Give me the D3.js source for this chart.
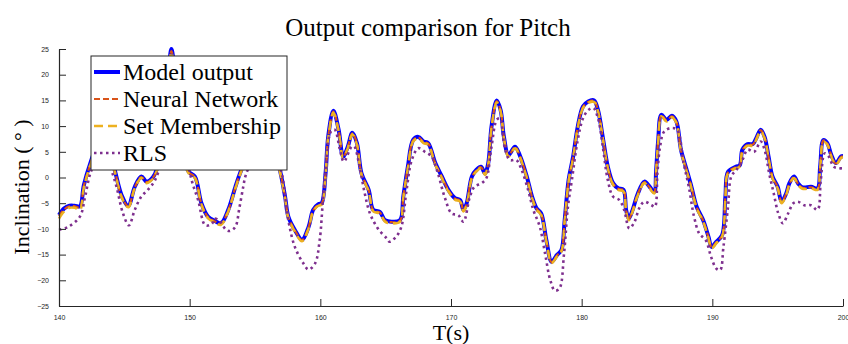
<!DOCTYPE html>
<html>
<head>
<meta charset="utf-8">
<script src="https://cdn.jsdelivr.net/npm/d3@7"></script>
<style>
  html, body { margin: 0; padding: 0; background: #fff; }
  svg { display: block; }
</style>
</head>
<body>
<script>
// time stamps (s) of the traced model / NN / SM samples
const modelT = [140.0,140.4,140.8,141.2,141.6,141.9,142.4,142.9,143.4,143.9,144.3,144.8,145.3,145.8,146.3,146.7,147.2,147.5,148.0,148.4,148.6,148.8,149.2,149.9,
  150.4,150.9,151.4,151.9,152.4,152.95,153.5,153.85,154.4,155.2,156.0,156.6,156.9,157.3,157.55,158.05,158.6,159.1,159.45,159.85,
  160.1,160.4,160.6,161.0,161.4,161.75,162.1,162.45,162.8,163.15,163.7,164.05,164.55,164.95,165.45,166.1,166.35,166.7,167.1,167.5,167.9,168.25,168.8,169.3,169.8,
  170.3,170.7,170.95,171.2,171.6,171.95,172.3,172.6,172.85,173.1,173.5,173.8,174.05,174.4,174.9,175.3,175.8,176.2,176.55,176.9,177.3,177.7,178.1,178.45,178.7,179.0,179.35,179.7,
  180.1,180.5,180.95,181.25,181.65,182.0,182.4,182.8,183.2,183.4,183.6,183.9,184.3,184.8,185.2,185.55,185.7,185.85,186.1,186.5,186.9,187.25,187.6,188.0,188.4,188.8,189.3,189.7,189.95,
  190.3,190.75,191.0,191.2,191.8,192.1,192.3,192.7,193.1,193.35,193.7,194.0,194.3,194.6,195.0,195.3,195.65,195.9,196.25,196.55,196.9,197.55,198.05,198.25,198.5,198.8,199.1,199.45,199.85,200.0];

const modelY = [-7.3,-6.0,-5.5,-5.5,-5.6,-1.5,2.8,6.0,7.0,5.0,1.1,-3.5,-5.5,-1.8,0.2,-0.8,0.1,1.8,10,21,25,22,12,1.2,
  0.2,-5.0,-7.6,-8.4,-8.9,-6.3,-1.8,0.8,4,6,6,4,1.5,-3.7,-7.6,-10.2,-12.1,-9.6,-6.3,-5.2,
  -5.0,0.8,7.9,13.0,9.3,4.1,6.0,8.7,6.7,0.8,-2.4,-6.3,-6.7,-8.3,-8.6,-8.3,-3.7,2.1,7.3,7.9,7.0,6.7,2.8,0.2,-2.4,
  -4.0,-4.4,-6.3,-5.0,0.2,1.5,2.1,0.8,2.8,9.9,15.0,13.1,7.9,4.4,6.0,4.1,0.2,-3.7,-6.0,-7.0,-12.2,-16.4,-15.1,-14.1,-8.3,-0.5,4.1,9.9,
  13.8,14.8,15.0,13.1,7.3,2.1,-1.1,-2.1,-2.4,-6.3,-8.0,-6.3,-3.1,-0.8,-1.8,-2.8,1.5,7.0,12.2,11.2,12.0,10.9,5.4,1.8,-1.8,-5.7,-8.3,-11.5,-13.5,
  -12.5,-11.2,-3.7,1.1,2.1,2.4,5.4,6.5,6.5,7.6,9.3,7.9,4.1,0.2,-1.8,-4.7,-3.1,-1.1,0.2,-1.1,-1.9,-1.8,-2.1,2.1,7.3,6.7,4.4,2.8,4.1,4.2];

const nnY = [-7.5,-6.2,-5.6,-5.6,-5.8,-1.7,2.6,6.0,7.0,5.0,1.0,-3.7,-5.6,-1.9,0.1,-0.9,0.0,1.7,10,21,24.6,22,12,1.1,
  0.1,-5.1,-7.7,-8.5,-9.0,-6.4,-1.9,0.7,4,6,6,4,1.4,-3.8,-7.7,-10.3,-12.2,-9.7,-6.4,-5.3,
  -5.1,0.7,7.8,12.8,9.2,4.0,5.9,8.6,6.6,0.7,-2.5,-6.4,-6.8,-8.4,-8.7,-8.4,-3.8,2.0,7.2,7.8,6.9,6.6,2.7,0.1,-2.5,
  -4.1,-4.5,-6.4,-5.1,0.1,1.4,2.0,0.7,2.7,9.8,14.8,13.0,7.8,4.3,5.9,4.0,0.1,-3.8,-6.1,-7.1,-12.3,-16.5,-15.2,-14.2,-8.4,-0.6,4.0,9.8,
  13.7,14.7,14.9,13.0,7.2,2.0,-1.2,-2.2,-2.5,-6.4,-8.1,-6.4,-3.2,-0.9,-1.9,-2.9,1.4,6.9,12.1,11.1,11.9,10.8,5.3,1.7,-1.9,-5.8,-8.4,-11.6,-13.6,
  -12.6,-11.3,-3.8,1.0,2.0,2.3,5.3,6.4,6.4,7.5,9.2,7.8,4.0,0.1,-1.9,-4.8,-3.2,-1.2,0.1,-1.2,-2.0,-1.9,-2.2,2.0,7.2,6.6,4.3,2.7,4.0,4.1];

const smY = [-8.0,-6.6,-5.9,-5.9,-6.3,-2.0,2.4,5.8,6.8,4.8,0.8,-3.9,-5.8,-2.1,-0.1,-1.1,-0.2,1.5,9.6,20.5,24.4,21.6,11.6,0.9,
  -0.1,-5.3,-7.9,-8.7,-9.2,-6.6,-2.1,0.5,3.8,5.8,5.8,3.8,1.2,-4.0,-7.9,-10.5,-12.4,-9.9,-6.6,-5.5,
  -5.3,0.5,7.6,12.6,9.0,3.8,5.7,8.4,6.4,0.5,-2.7,-6.6,-7.0,-8.6,-8.9,-8.6,-4.0,1.8,7.0,7.6,6.7,6.4,2.5,-0.1,-2.7,
  -4.3,-4.7,-6.6,-5.3,-0.1,1.2,1.8,0.5,2.5,9.6,14.6,12.8,7.6,4.1,5.7,3.8,-0.1,-4.0,-6.3,-7.3,-12.5,-16.6,-15.4,-14.4,-8.6,-0.8,3.8,9.6,
  13.5,14.5,14.7,12.8,7.0,1.8,-1.4,-2.4,-2.7,-6.6,-8.3,-6.6,-3.4,-1.1,-2.1,-3.1,1.2,6.7,11.9,10.9,11.7,10.6,5.1,1.5,-2.1,-6.0,-8.6,-11.8,-13.8,
  -12.8,-11.5,-4.0,0.8,1.8,2.1,5.1,6.2,6.2,7.3,9.0,7.6,3.8,-0.1,-2.1,-5.0,-3.4,-1.4,-0.1,-1.4,-2.2,-2.1,-2.4,1.8,7.0,6.4,4.1,2.5,3.8,3.9];

// RLS estimate (own time stamps)
const rlsT = [140.0,140.7,141.6,142.0,142.4,143.0,143.6,144.0,144.4,144.9,145.35,145.8,146.3,146.8,147.35,147.8,148.3,149.0,149.5,
  150.15,150.65,151.2,151.7,151.9,152.3,152.8,153.1,153.5,153.8,154.1,154.3,155.0,156.0,156.6,157.05,157.55,158.05,158.7,159.1,159.6,159.95,
  160.2,160.5,160.8,161.1,161.5,161.8,162.4,162.6,163.0,163.4,163.8,164.4,165.1,165.3,165.8,166.2,166.6,167.0,167.5,168.0,168.5,169.0,169.5,
  170.05,170.55,170.95,171.45,171.8,172.35,172.7,173.1,173.5,173.75,174.1,174.5,175.0,175.4,175.9,176.3,176.8,177.2,177.6,177.95,178.3,178.65,178.95,179.25,179.7,
  180.1,180.5,180.9,181.25,181.65,182.0,182.4,182.9,183.25,183.65,184.05,184.4,184.8,185.35,185.6,185.8,186.0,186.3,186.8,187.3,187.8,188.2,188.6,189.0,189.5,189.9,
  190.3,190.6,190.85,191.2,191.45,191.85,192.3,192.7,193.2,193.7,194.0,194.35,194.7,195.05,195.4,195.8,196.2,196.55,197.05,197.55,198.05,198.3,198.6,198.9,199.3,199.7,200.0];

const rlsY = [-10.2,-9.6,-7.6,-3.7,0.8,4,4,1.5,-1.8,-7.0,-9.3,-6.3,-3.7,-2.4,-0.5,3,12,20,8,
  -0.5,-4.4,-9.3,-9.0,-8.0,-8.5,-10.2,-10.4,-9.6,-6,-1.8,0.5,4,5,4,0.8,-8.3,-13.5,-16.7,-17.9,-16.7,-12.2,
  -4.4,4.1,8.9,9.3,5.4,3.1,6.0,6.0,2.1,-3.1,-7.0,-9.9,-11.9,-12.5,-11.5,-9.6,-2.4,3.4,5.7,5.0,4.1,0.8,-3.7,
  -7.0,-7.3,-8.6,-3.7,-1.8,-1.1,-0.2,6.0,11.2,11.5,6.0,3.4,3.4,1.5,-2.4,-6.3,-9.6,-14.8,-20.0,-22.0,-21.6,-14.8,-5.7,-0.5,7.3,
  11.5,13.1,13.5,11.5,5.4,-0.5,-3.7,-4.4,-6.3,-9.9,-8.6,-6.0,-4.7,-5.4,-5.7,1.0,6.0,8.9,9.6,9.3,2.8,-1.8,-7.6,-10.9,-12.2,-15.4,
  -17.7,-18.0,-13.5,-5.7,0.2,1.5,3.4,5.4,5.0,7.0,5.4,0.8,-3.1,-7.0,-8.9,-7.0,-5.0,-4.7,-5.4,-5.4,-6.3,-0.5,4.7,4.1,2.1,1.8,1.8];

const xTicks = [140, 150, 160, 170, 180, 190, 200];
const yTicks = [-25, -20, -15, -10, -5, 0, 5, 10, 15, 20, 25];
const legendLabels = ["Model output", "Neural Network", "Set Membership", "RLS"];

const width = 848, height = 344;
const axisColor = "#262626";
const serif = "'Liberation Serif', 'Times New Roman', serif";

const svg = d3.select("body").append("svg")
    .attr("width", width)
    .attr("height", height);

const xScale = d3.scaleLinear().domain([140, 200]).range([59, 843]);
const yScale = d3.scaleLinear().domain([-25, 25]).range([306, 49]);

const series = [
    { name: legendLabels[0], t: modelT, v: modelY, color: "#0000ff", w: 4, dash: null },
    { name: legendLabels[1], t: modelT, v: nnY, color: "#D95319", w: 2.2, dash: "6,3" },
    { name: legendLabels[2], t: modelT, v: smY, color: "#EDB120", w: 2.6, dash: "9,5" },
    { name: legendLabels[3], t: rlsT, v: rlsY, color: "#7E2F8E", w: 2.6, dash: "2.5,3.5" }
];

const line = d3.line()
    .x(d => xScale(d[0]))
    .y(d => yScale(d[1]))
    .curve(d3.curveCatmullRom.alpha(0.5));

const plot = svg.append("g");
series.forEach(s => {
    plot.append("path")
        .datum(s.t.map((t, i) => [t, s.v[i]]))
        .attr("fill", "none")
        .attr("stroke", s.color)
        .attr("stroke-width", s.w)
        .attr("stroke-linejoin", "round")
        .attr("stroke-dasharray", s.dash)
        .attr("d", line);
});

// axes, ticks pointing inward (MATLAB style)
const xAxis = d3.axisBottom(xScale).tickValues(xTicks).tickSizeInner(-7).tickSizeOuter(0).tickPadding(9);
const yAxis = d3.axisLeft(yScale).tickValues(yTicks).tickSizeInner(-7).tickSizeOuter(0).tickPadding(10);

const gx = svg.append("g")
    .attr("transform", "translate(0," + 306 + ")")
    .call(xAxis);
const gy = svg.append("g")
    .attr("transform", "translate(" + 59 + ",0)")
    .call(yAxis);

[gx, gy].forEach(g => {
    g.select(".domain").attr("stroke", axisColor).attr("stroke-width", 1.2);
    g.selectAll(".tick line").attr("stroke", axisColor).attr("stroke-width", 1);
    g.selectAll(".tick text")
        .attr("fill", axisColor)
        .style("font-family", "'Liberation Sans', Arial, sans-serif")
        .style("font-size", "7px");
});

// legend
const legend = svg.append("g");
legend.append("rect")
    .attr("x", 91).attr("y", 56)
    .attr("width", 196).attr("height", 114)
    .attr("fill", "#fff")
    .attr("stroke", axisColor)
    .attr("stroke-width", 1);

const rowY = [72, 99, 126, 153];
series.forEach((s, i) => {
    legend.append("line")
        .attr("x1", 94).attr("x2", 120)
        .attr("y1", rowY[i]).attr("y2", rowY[i])
        .attr("stroke", s.color)
        .attr("stroke-width", s.w)
        .attr("stroke-dasharray", s.dash);
    legend.append("text")
        .attr("x", 123).attr("y", rowY[i] + 8)
        .style("font-family", serif)
        .style("font-size", "24px")
        .attr("fill", "#000")
        .text(s.name);
});

// titles
svg.append("text")
    .attr("x", 428).attr("y", 36)
    .attr("text-anchor", "middle")
    .style("font-family", serif)
    .style("font-size", "25px")
    .text("Output comparison for Pitch");

svg.append("text")
    .attr("x", 451).attr("y", 340)
    .attr("text-anchor", "middle")
    .style("font-family", serif)
    .style("font-size", "22px")
    .text("T(s)");

svg.append("text")
    .attr("transform", "translate(29,187) rotate(-90)")
    .attr("text-anchor", "middle")
    .style("font-family", serif)
    .style("font-size", "22px")
    .text("Inclination ( ° )");
</script>
</body>
</html>
